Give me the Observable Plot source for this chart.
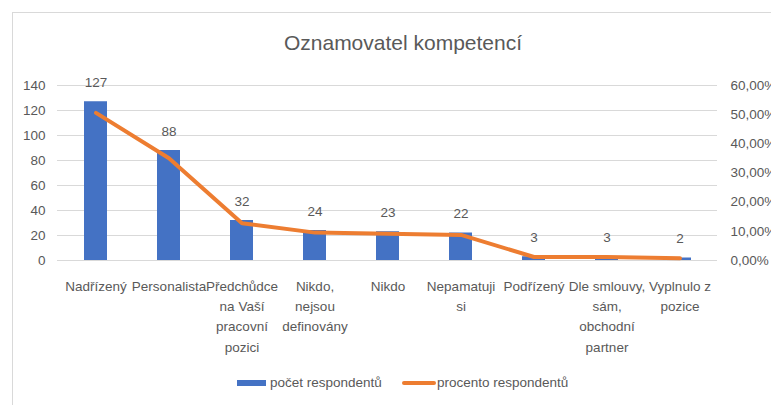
<!DOCTYPE html>
<html><head><meta charset="utf-8">
<script src="https://cdn.jsdelivr.net/npm/d3@7"></script>
<script src="https://cdn.jsdelivr.net/npm/@observablehq/plot@0.6"></script>
<style>
body{margin:0;background:#fff;}
#wrap{position:relative;width:771px;height:405px;overflow:hidden;font-family:"Liberation Sans",sans-serif;color:#595959;}
#frame{position:absolute;left:12px;top:12px;width:800px;height:420px;border-left:1px solid #d9d9d9;border-top:1px solid #d9d9d9;}
#title{position:absolute;left:0;width:806px;top:31px;text-align:center;font-size:21px;}
#chart{position:absolute;left:0;top:0;}
.leg{position:absolute;top:375px;font-size:13.5px;}
</style></head>
<body><div id="wrap"><div id="frame"></div><div id="chart"></div>
<div id="title">Oznamovatel kompetencí</div>
<div class="leg" style="left:237px"><span style="display:inline-block;width:29px;height:6px;background:#4472C4;vertical-align:middle;margin-right:4px"></span>počet respondentů</div>
<div class="leg" style="left:402px"><span style="display:inline-block;width:34px;height:4px;background:#ED7D31;vertical-align:middle;border-radius:2px;margin-right:1px"></span>procento respondentů</div>
</div>
<script>
const categories = ["Nadřízený","Personalista","Předchůdce na Vaší pracovní pozici","Nikdo, nejsou definovány","Nikdo","Nepamatuji si","Podřízený","Dle smlouvy, sám, obchodní partner","Vyplnulo z pozice"];
const categoryLabels = ["Nadřízený","Personalista","Předchůdce\nna Vaší\npracovní\npozici","Nikdo,\nnejsou\ndefinovány","Nikdo","Nepamatuji\nsi","Podřízený","Dle smlouvy,\nsám,\nobchodní\npartner","Vyplnulo z\npozice"];
const counts = [127,88,32,24,23,22,3,3,2];
const percents = [0.506,0.3506,0.1275,0.0956,0.0916,0.0876,0.012,0.012,0.008];
const leftTicks = [0,20,40,60,80,100,120,140];
const rightTicks = [0,0.1,0.2,0.3,0.4,0.5,0.6];

const k = 140/0.6;
const rows = categories.map((c,i)=>({c, n:counts[i], p:percents[i], py:percents[i]*k}));
const labelOf = Object.fromEntries(categories.map((c,i)=>[c,categoryLabels[i]]));
const fmtPct = v => (v*100).toFixed(2).replace(".",",")+"%";
const FS = 13.5;

const plot = Plot.plot({
  width:771, height:405,
  marginLeft:57, marginRight:54, marginTop:85, marginBottom:145,
  style:{fontFamily:'"Liberation Sans",sans-serif', fontSize:FS+"px", color:"#595959", background:"transparent"},
  x:{domain:categories, paddingInner:0.685, paddingOuter:0.3425, axis:null},
  y:{domain:[0,140], axis:null},
  marks:[
    Plot.ruleY(leftTicks,{stroke:"#d9d9d9", strokeWidth:1}),
    Plot.axisY(leftTicks,{anchor:"left", tickSize:0, tickPadding:12, fontSize:FS, label:null}),
    Plot.axisY(rightTicks.map(v=>v*k),{anchor:"right", tickSize:0, tickPadding:13, fontSize:FS, label:null, tickFormat:v=>fmtPct(v/k)}),
    Plot.axisX({anchor:"bottom", tickSize:0, tickPadding:16, fontSize:FS, label:null, lineHeight:1.5, textAnchor:"middle", tickFormat:c=>labelOf[c]}),
    Plot.barY(rows,{x:"c", y:"n", fill:"#4472C4"}),
    Plot.text(rows,{x:"c", y:"n", text:d=>String(d.n), dy:-19, fontSize:FS, fill:"#595959"}),
    Plot.line(rows,{x:"c", y:"py", stroke:"#ED7D31", strokeWidth:4, strokeLinejoin:"round", strokeLinecap:"round"})
  ]
});
document.getElementById("chart").appendChild(plot);
</script></body></html>
